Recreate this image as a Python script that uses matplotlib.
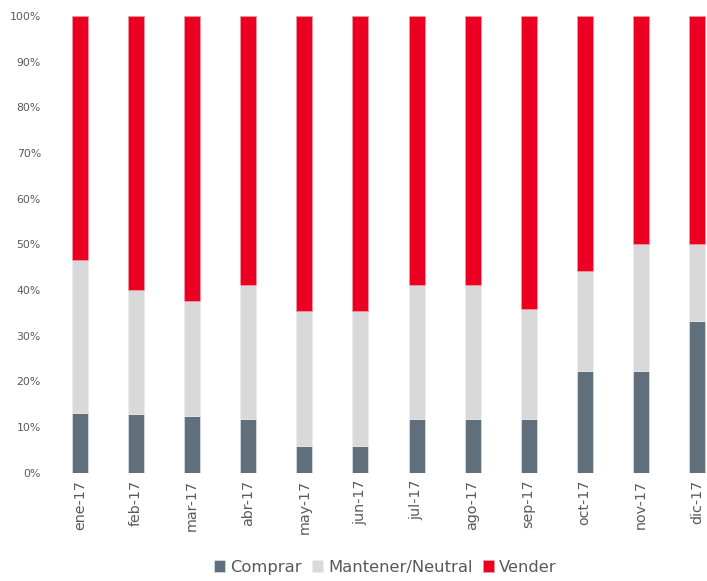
import matplotlib
matplotlib.use("Agg")
import matplotlib.pyplot as plt
import numpy as np
from matplotlib.ticker import PercentFormatter

months = ["ene-17", "feb-17", "mar-17", "abr-17", "may-17", "jun-17",
          "jul-17", "ago-17", "sep-17", "oct-17", "nov-17", "dic-17"]
comprar = [13.0, 12.9, 12.5, 11.8, 5.9, 5.9, 11.8, 11.8, 11.8, 22.2, 22.2, 33.3]
mantener = [33.5, 27.0, 25.0, 29.4, 29.4, 29.4, 29.4, 29.4, 24.1, 22.0, 27.8, 16.7]
vender = [100 - c - m for c, m in zip(comprar, mantener)]

c_comp = "#5F6F7C"
c_mant = "#D9D9D9"
c_vend = "#EC0022"
txt = "#595959"

fig = plt.figure(figsize=(7.07, 5.81), dpi=100)
ax = fig.add_axes([52 / 707, 108.3 / 581, 655 / 707, 456.7 / 581])

x = np.arange(len(months))
w = 0.285
ax.bar(x, comprar, w, color=c_comp, label="Comprar", edgecolor="#E8ECEF", linewidth=0.4)
ax.bar(x, mantener, w, bottom=comprar, color=c_mant, label="Mantener/Neutral",
       edgecolor="#EEEEEE", linewidth=0.4)
ax.bar(x, vender, w, bottom=np.array(comprar) + np.array(mantener), color=c_vend,
       label="Vender", edgecolor="#F5A0A8", linewidth=0.4)

ax.set_ylim(0, 100)
ax.set_xlim(-0.5, 11.18)
ax.set_yticks(np.arange(0, 101, 10))
ax.yaxis.set_major_formatter(PercentFormatter(decimals=0))
ax.set_xticks(x)
ax.set_xticklabels(months, rotation=90)
for s in ax.spines.values():
    s.set_visible(False)
ax.tick_params(axis="both", length=0, colors=txt)
ax.tick_params(axis="y", pad=8, labelsize=7.8)
ax.tick_params(axis="x", pad=5, labelsize=10.3)

leg = fig.legend(loc="center", bbox_to_anchor=(0.545, 0.024), ncol=3, frameon=False,
                 fontsize=11.8, handlelength=0.7, handleheight=0.7, handletextpad=0.3,
                 columnspacing=0.6, labelcolor=txt)

fig.savefig("out.png", dpi=100)
